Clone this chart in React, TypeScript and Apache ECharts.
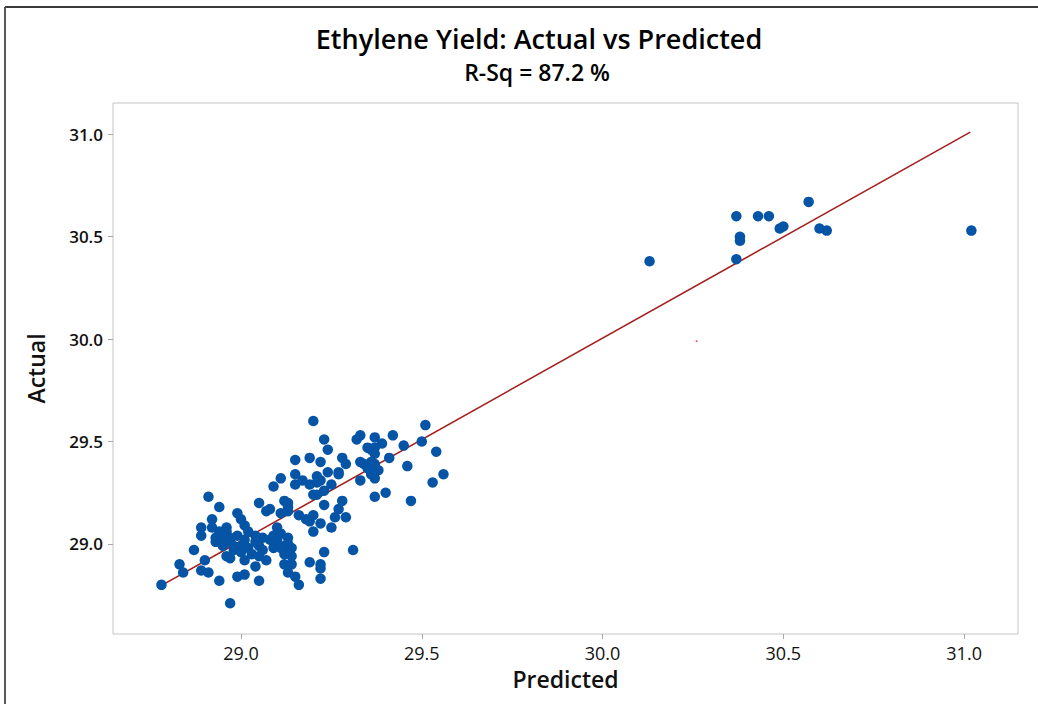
import React, { useEffect, useRef } from 'react';
import * as echarts from 'echarts';

const titleText = 'Ethylene Yield: Actual vs Predicted';
const subtitleText = 'R-Sq = 87.2 %';
const xName = 'Predicted';
const yName = 'Actual';

const xTicks = [29.0, 29.5, 30.0, 30.5, 31.0];
const yTicks = [29.0, 29.5, 30.0, 30.5, 31.0];

const predicted = [
  28.78, 28.83, 28.84, 28.87, 28.89, 28.91, 28.90, 28.91, 28.94, 28.89,
  28.89, 28.92, 28.92, 28.93, 28.93, 28.94, 28.97, 28.97, 28.96, 28.96,
  28.99, 29.00, 29.01, 28.97, 28.95, 28.99, 29.01, 29.05, 29.05, 29.07,
  29.08, 29.04, 29.07, 29.06, 29.04, 28.99, 29.00, 29.01, 29.02, 29.00,
  29.02, 28.98, 29.03, 29.05, 29.04, 29.06, 29.01, 28.97, 29.05, 29.09,
  29.10, 29.11, 29.13, 29.13, 29.12, 29.14, 29.12, 29.14, 29.13, 29.15,
  29.16, 29.11, 29.09, 29.12, 29.13, 29.11, 29.13, 29.16, 29.15, 29.15,
  29.17, 29.15, 29.08, 29.12, 29.10, 29.20, 29.23, 29.24, 29.19, 29.22,
  29.24, 29.22, 29.21, 29.25, 29.23, 29.20, 29.21, 29.27, 29.28, 29.29,
  29.28, 29.27, 29.26, 29.29, 29.23, 29.20, 29.19, 29.22, 29.20, 29.25,
  29.18, 29.19, 29.22, 29.23, 29.22, 29.22, 29.31, 29.33, 29.32, 29.37,
  29.39, 29.42, 29.35, 29.37, 29.36, 29.33, 29.34, 29.37, 29.38, 29.37,
  29.37, 29.33, 29.41, 29.45, 29.50, 29.51, 29.54, 29.46, 29.53, 29.56,
  29.37, 29.40, 29.47, 29.36, 29.36, 29.37, 29.35, 29.27, 29.21, 29.09,
  29.14, 29.11, 29.13, 29.19, 28.94, 28.95, 28.98, 28.96,
  30.13, 30.37, 30.38, 30.38, 30.37, 30.43, 30.46, 30.49, 30.50, 30.57,
  30.60, 30.62, 31.02,
];

const actual = [
  28.80, 28.90, 28.86, 28.97, 28.87, 28.86, 28.92, 29.23, 29.18, 29.08,
  29.04, 29.12, 29.08, 29.03, 29.01, 28.82, 28.93, 28.71, 29.08, 29.06,
  29.15, 29.12, 29.09, 29.01, 28.99, 28.84, 28.85, 28.82, 29.20, 29.16,
  29.17, 28.89, 28.92, 29.03, 29.01, 29.04, 28.99, 29.02, 28.98, 28.96,
  29.06, 28.97, 28.95, 28.99, 29.04, 28.97, 28.92, 29.03, 28.94, 28.98,
  29.08, 29.05, 29.03, 29.00, 28.95, 28.94, 28.90, 28.90, 28.86, 28.84,
  28.80, 29.32, 29.28, 29.21, 29.18, 29.15, 29.16, 29.14, 29.41, 29.34,
  29.31, 29.29, 29.02, 28.99, 29.02, 29.60, 29.51, 29.46, 29.42, 29.40,
  29.35, 29.31, 29.33, 29.29, 29.26, 29.24, 29.24, 29.35, 29.42, 29.39,
  29.21, 29.17, 29.13, 29.13, 29.19, 29.14, 29.11, 29.10, 29.06, 29.08,
  29.12, 28.91, 28.90, 28.96, 28.88, 28.83, 28.97, 29.53, 29.51, 29.52,
  29.49, 29.53, 29.47, 29.44, 29.40, 29.40, 29.39, 29.39, 29.36, 29.37,
  29.32, 29.31, 29.42, 29.48, 29.50, 29.58, 29.45, 29.38, 29.30, 29.34,
  29.23, 29.25, 29.21, 29.46, 29.34, 29.47, 29.37, 29.34, 29.30, 29.04,
  28.98, 28.98, 29.20, 29.29, 29.06, 29.02, 28.99, 28.94,
  30.38, 30.60, 30.50, 30.48, 30.39, 30.60, 30.60, 30.54, 30.55, 30.67,
  30.54, 30.53, 30.53,
];

const fitX = [28.783, 31.017];
const fitY = [28.8, 31.011];

const strayX = [30.26];
const strayY = [29.99];

const FONT = '"Open Sans", "Noto Sans", sans-serif';

export default function App() {
  const ref = useRef<HTMLDivElement>(null);

  useEffect(() => {
    document.body.style.margin = '0';
    if (!ref.current) return;
    const chart = echarts.init(ref.current, undefined, { renderer: 'svg' });
    const points = predicted.map((x, i) => [x, actual[i]]);
    const fit = fitX.map((x, i) => [x, fitY[i]]);
    const stray = strayX.map((x, i) => [x, strayY[i]]);

    chart.setOption({
      animation: false,
      backgroundColor: '#ffffff',
      textStyle: { fontFamily: FONT },
      title: [
        {
          text: titleText,
          left: 534,
          top: 20,
          textAlign: 'center',
          textStyle: { fontFamily: FONT, fontSize: 27, fontWeight: 600, color: '#000' },
        },
        {
          text: subtitleText,
          left: 532,
          top: 55,
          textAlign: 'center',
          textStyle: { fontFamily: FONT, fontSize: 23, fontWeight: 600, color: '#000' },
        },
      ],
      grid: {
        left: 113,
        top: 103,
        width: 905,
        height: 531,
        show: true,
        borderColor: '#c4c4c4',
        borderWidth: 1,
        backgroundColor: 'transparent',
      },
      xAxis: {
        type: 'value',
        min: 28.646,
        max: 31.149,
        name: xName,
        nameLocation: 'middle',
        nameGap: 33,
        nameTextStyle: { fontFamily: FONT, fontSize: 23, fontWeight: 600, color: '#111', lineHeight: 24 },
        axisLine: { show: false },
        splitLine: { show: false },
        axisTick: { show: true, inside: false, length: 5, lineStyle: { color: '#a8a8a8' }, customValues: xTicks },
        axisLabel: {
          customValues: xTicks,
          formatter: (v: number) => v.toFixed(1),
          fontFamily: FONT,
          fontSize: 18,
          lineHeight: 18,
          color: '#111',
          margin: 10,
        },
      },
      yAxis: {
        type: 'value',
        min: 28.56,
        max: 31.153,
        name: yName,
        nameLocation: 'middle',
        nameGap: 66,
        nameRotate: 90,
        nameTextStyle: { fontFamily: FONT, fontSize: 23, fontWeight: 600, color: '#111' },
        axisLine: { show: false },
        splitLine: { show: false },
        axisTick: { show: true, inside: false, length: 5, lineStyle: { color: '#a8a8a8' }, customValues: yTicks },
        axisLabel: {
          customValues: yTicks,
          formatter: (v: number) => v.toFixed(1),
          fontFamily: FONT,
          fontSize: 17,
          fontWeight: 600,
          color: '#111',
          margin: 10,
        },
      },
      graphic: [
        {
          type: 'line',
          shape: { x1: 5, y1: 7, x2: 1038, y2: 7 },
          style: { stroke: '#3a3a3a', lineWidth: 2 },
          silent: true,
        },
        {
          type: 'line',
          shape: { x1: 5, y1: 7, x2: 5, y2: 704 },
          style: { stroke: '#5a5a5a', lineWidth: 2 },
          silent: true,
        },
      ],
      series: [
        {
          type: 'line',
          data: fit,
          symbol: 'none',
          lineStyle: { color: '#a3201f', width: 1.6 },
          z: 1,
          silent: true,
        },
        {
          type: 'scatter',
          data: points,
          symbol: 'circle',
          symbolSize: 10.5,
          itemStyle: { color: '#0554a6', opacity: 1 },
          z: 2,
        },
        {
          type: 'scatter',
          data: stray,
          symbol: 'circle',
          symbolSize: 2,
          itemStyle: { color: '#e8383b' },
          z: 2,
        },
      ],
    });

    return () => chart.dispose();
  }, []);

  return <div ref={ref} style={{ width: 1038, height: 704 }} />;
}
